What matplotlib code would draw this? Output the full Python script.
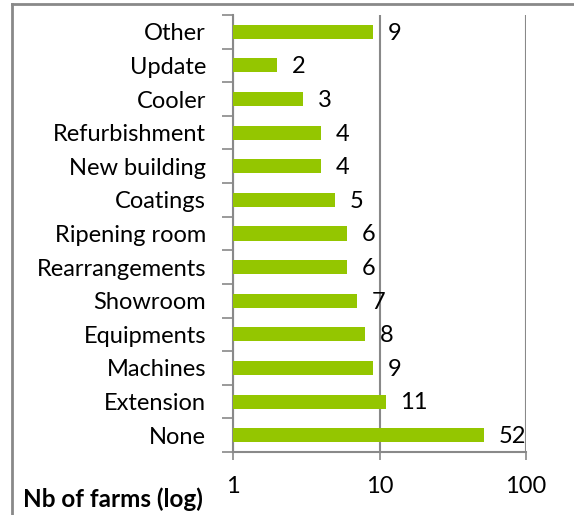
import numpy as np
import matplotlib.pyplot as plt
from matplotlib.lines import Line2D
from matplotlib.ticker import FixedLocator, NullLocator

# data, bottom to top
categories = ["None", "Extension", "Machines", "Equipments", "Showroom",
              "Rearrangements", "Ripening room", "Coatings", "New building",
              "Refurbishment", "Cooler", "Update", "Other"]
farms = [52, 11, 9, 8, 7, 6, 6, 5, 4, 4, 3, 2, 9]
x_ticks = [1, 10, 100]

plt.rcParams['font.family'] = ['Lato', 'DejaVu Sans']
gray = '#898989'
green = '#94C600'
fs = 17

fig = plt.figure(figsize=(5.74, 5.15), dpi=100)
ax = fig.add_axes([233/574, 1-452/515, (526-233)/574, (452-15)/515])

y = np.arange(len(categories))
ax.barh(y, farms, height=0.42, left=0, color=green, zorder=3)
ax.set_xscale('log')
ax.set_xlim(1, 100)
ax.set_ylim(-0.5, len(categories) - 0.5)

for yi, v in zip(y, farms):
    ax.annotate(str(v), (v, yi), xytext=(10.5, -1), textcoords='offset points',
                ha='left', va='center', fontsize=fs, zorder=4)

ax.xaxis.set_major_locator(FixedLocator(x_ticks))
ax.xaxis.set_minor_locator(NullLocator())
ax.set_xticklabels([str(t) for t in x_ticks], fontsize=fs)
ax.tick_params(axis='x', which='major', direction='out', length=6, width=1.2,
               color=gray, pad=11)
ax.grid(axis='x', color=gray, linewidth=1.5, zorder=1)

ax.set_yticks(y)
ax.set_yticklabels(categories, fontsize=fs)
ax.tick_params(axis='y', which='major', length=0, pad=19.5)
ax.yaxis.set_minor_locator(FixedLocator(np.arange(-0.5, len(categories), 1.0)))
ax.tick_params(axis='y', which='minor', direction='out', length=8, width=1.2, color=gray)

for s in ['top', 'right']:
    ax.spines[s].set_visible(False)
for s in ['left', 'bottom']:
    ax.spines[s].set_color(gray)
    ax.spines[s].set_linewidth(1.5)

fig.text(23/574, 1-499/515, "Nb of farms (log)", fontsize=17.5, fontweight='bold',
         ha='left', va='center')

# outer frame (only left and top visible in the crop)
fig.add_artist(Line2D([12/574, 12/574], [0, 1-4/515], color=gray, linewidth=2,
                      transform=fig.transFigure))
fig.add_artist(Line2D([12/574, 1], [1-4/515, 1-4/515], color=gray, linewidth=2,
                      transform=fig.transFigure))

fig.savefig('out.png', dpi=100)
